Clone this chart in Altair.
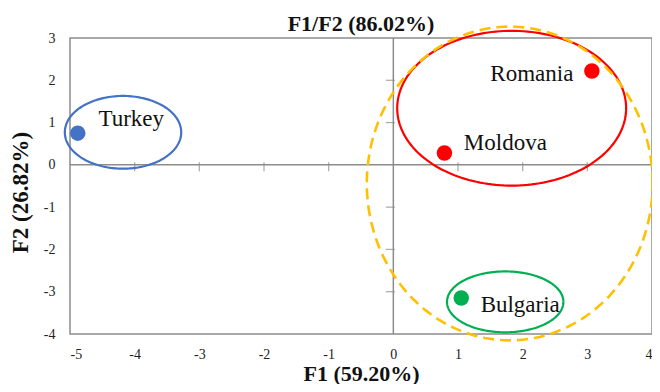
import altair as alt
import numpy as np
import pandas as pd

FONT = "Liberation Serif"

# Observations
countries = ["Turkey", "Moldova", "Romania", "Bulgaria"]
f1 = [-4.88, 0.79, 3.07, 1.05]
f2 = [0.75, 0.28, 2.22, -3.15]
groups = ["blue", "red", "red", "green"]
label_x = [-4.56, 1.09, 1.50, 1.35]
label_y = [0.93, 0.34, 1.99, -3.49]

# Group ellipses (centre, semi-axes in F1/F2 units)
ell_group = ["blue", "red", "green", "orange"]
ell_cx = [-4.18, 1.83, 1.73, 1.80]
ell_cy = [0.77, 1.34, -3.24, -0.44]
ell_rx = [0.90, 1.77, 0.90, 2.21]
ell_ry = [0.86, 1.83, 0.72, 3.71]

x_ticks = [-5, -4, -3, -2, -1, 0, 1, 2, 3, 4]
y_ticks = [-4, -3, -2, -1, 0, 1, 2, 3]
x_inner_ticks = [-4, -3, -2, -1, 1, 2, 3]
y_inner_ticks = [-3, -2, -1, 1, 2]

color_domain = ["blue", "red", "green", "orange"]
color_range = ["#4472C4", "#FF0000", "#00B050", "#FFC000"]
color_scale = alt.Scale(domain=color_domain, range=color_range)

xs = alt.Scale(domain=[-5, 4], nice=False, zero=False)
ys = alt.Scale(domain=[-4, 3], nice=False, zero=False)

hyphen = "datum.value < 0 ? '-' + abs(datum.value) : '' + datum.value"

x_axis = alt.Axis(
    values=x_ticks, ticks=False, tickSize=0, domain=False, grid=False, labelExpr=hyphen,
    labelPadding=13, labelFontSize=14, labelFont=FONT, labelColor="#222",
    title="F1 (59.20%)", titleFont=FONT, titleFontSize=22, titleFontWeight="bold",
    titleColor="#111", titleBaseline="alphabetic", titleY=46)
y_axis = alt.Axis(
    values=y_ticks, ticks=False, tickSize=0, domain=False, grid=False, labelExpr=hyphen,
    labelPadding=15, labelFontSize=14, labelFont=FONT, labelColor="#222",
    title="F2 (26.82%)", titleFont=FONT, titleFontSize=23, titleFontWeight="bold",
    titleColor="#111", titleBaseline="alphabetic", titleX=-43, titleY=154)


def X():
    return alt.X("x:Q", scale=xs, axis=x_axis)


def Y():
    return alt.Y("y:Q", scale=ys, axis=y_axis)


pts = pd.DataFrame({"country": countries, "x": f1, "y": f2, "g": groups})
lbl = pd.DataFrame({"country": countries, "x": label_x, "y": label_y})

t = np.deg2rad(np.arange(0, 362, 2))
rows = []
for g, cx, cy, rx, ry in zip(ell_group, ell_cx, ell_cy, ell_rx, ell_ry):
    for i, a in enumerate(t):
        rows.append({"g": g, "i": i, "x": cx + rx * np.cos(a), "y": cy + ry * np.sin(a)})
ell = pd.DataFrame(rows)

grey = "#8c8c8c"

vrule = alt.Chart(pd.DataFrame({"x": [0], "y": [-4], "y2": [3]})).mark_rule(
    color=grey, strokeWidth=1.5).encode(x=X(), y=Y(), y2="y2:Q")
hrule = alt.Chart(pd.DataFrame({"y": [0], "x": [-5], "x2": [4]})).mark_rule(
    color=grey, strokeWidth=1.5).encode(y=Y(), x=X(), x2="x2:Q")

xt = alt.Chart(pd.DataFrame({"x": x_inner_ticks, "y": [0] * len(x_inner_ticks)})).mark_tick(
    orient="vertical", size=9, thickness=1.3, color=grey, yOffset=2).encode(x=X(), y=Y())
yt = alt.Chart(pd.DataFrame({"y": y_inner_ticks, "x": [0] * len(y_inner_ticks)})).mark_tick(
    orient="horizontal", size=9, thickness=1.3, color=grey, xOffset=-3).encode(x=X(), y=Y())

solid = alt.Chart(ell[ell.g != "orange"]).mark_line(strokeWidth=2.2, clip=False).encode(
    x=X(), y=Y(),
    color=alt.Color("g:N", scale=color_scale, legend=None), detail="g:N", order="i:Q")
dashed = alt.Chart(ell[ell.g == "orange"]).mark_line(
    strokeWidth=2.6, strokeDash=[11, 6], clip=False).encode(
    x=X(), y=Y(),
    color=alt.Color("g:N", scale=color_scale, legend=None), detail="g:N", order="i:Q")

dots = alt.Chart(pts).mark_circle(size=240, opacity=1).encode(
    x=X(), y=Y(), color=alt.Color("g:N", scale=color_scale, legend=None))

labels = alt.Chart(lbl).mark_text(
    align="left", baseline="alphabetic", font=FONT, fontSize=23, color="#111").encode(
    x=X(), y=Y(), text="country:N")

chart = alt.layer(vrule, hrule, xt, yt, solid, dashed, dots, labels).properties(
    width=582, height=296,
    autosize=alt.AutoSizeParams(type="none"),
    padding={"left": 62, "top": 30, "right": 0, "bottom": 50},
    title=alt.TitleParams("F1/F2 (86.02%)", font=FONT, fontSize=22, fontWeight="bold",
                          color="#111", offset=5, dy=20, anchor="middle", frame="group"),
).configure_view(stroke=grey, strokeWidth=1.5)

chart.save("out.html", embed_options={"renderer": "svg", "actions": False})
